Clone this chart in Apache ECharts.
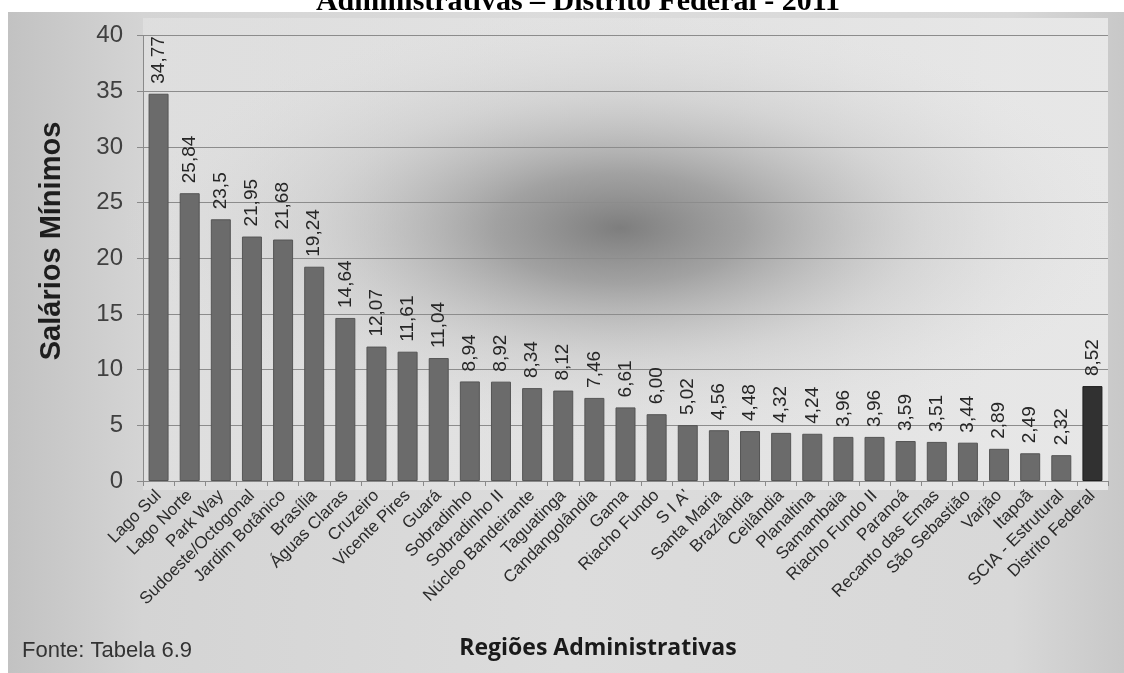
<!DOCTYPE html>
<html>
<head>
<meta charset="utf-8">
<script src="https://cdn.jsdelivr.net/npm/echarts@6/dist/echarts.min.js"></script>
<style>html,body{margin:0;padding:0;background:#fff;}#c{width:1124px;height:673px;}</style>
</head>
<body>
<div id="c"></div>
<script>
const categories = ["Lago Sul","Lago Norte","Park Way","Sudoeste/Octogonal","Jardim Botânico","Brasília","Águas Claras","Cruzeiro","Vicente Pires","Guará","Sobradinho","Sobradinho II","Núcleo Bandeirante","Taguatinga","Candangolândia","Gama","Riacho Fundo","S I A'","Santa Maria","Brazlândia","Ceilândia","Planaltina","Samambaia","Riacho Fundo II","Paranoá","Recanto das Emas","São Sebastião","Varjão","Itapoã","SCIA - Estrutural","Distrito Federal"];
const values = [34.77,25.84,23.5,21.95,21.68,19.24,14.64,12.07,11.61,11.04,8.94,8.92,8.34,8.12,7.46,6.61,6.00,5.02,4.56,4.48,4.32,4.24,3.96,3.96,3.59,3.51,3.44,2.89,2.49,2.32,8.52];
const valueLabels = ["34,77","25,84","23,5","21,95","21,68","19,24","14,64","12,07","11,61","11,04","8,94","8,92","8,34","8,12","7,46","6,61","6,00","5,02","4,56","4,48","4,32","4,24","3,96","3,96","3,59","3,51","3,44","2,89","2,49","2,32","8,52"];
const yTicks = [0,5,10,15,20,25,30,35,40];
const titleText = "Administrativas – Distrito Federal - 2011";
const yAxisTitle = "Salários Mínimos";
const xAxisTitle = "Regiões Administrativas";
const sourceText = "Fonte: Tabela 6.9";

const chart = echarts.init(document.getElementById('c'), null, {renderer:'canvas'});
const barData = values.map((v,i) => ({
  value: v,
  itemStyle: i === values.length-1 ? {color:'#313131', borderColor:'#1e1e1e'} : {}
}));
chart.setOption({
  animation:false,
  backgroundColor:'#ffffff',
  graphic:[
    {type:'text', z:-30, x:578, y:2,
     style:{text:titleText, font:'bold 30px "Liberation Serif"', fill:'#000', align:'center', verticalAlign:'middle'}},
    {type:'rect', z:-20, shape:{x:8,y:12,width:1116,height:661},
     style:{fill:{type:'linear',x:0,y:0,x2:1,y2:0,colorStops:[
       {offset:0,color:'#c2c2c2'},{offset:0.12,color:'#d4d4d4'},{offset:0.5,color:'#dcdcdc'},{offset:0.9,color:'#d8d8d8'},{offset:1,color:'#c8c8c8'}]}}},
    {type:'rect', z:-19, shape:{x:143,y:18,width:965,height:472},
     style:{fill:{type:'linear',x:0,y:0,x2:1,y2:0,colorStops:[
       {offset:0,color:'rgba(226,226,226,0.7)'},{offset:0.5,color:'rgba(230,230,230,0.6)'},{offset:1,color:'rgba(234,234,234,0.9)'}]}}},
    {type:'circle', z:-18, x:620, y:228, scaleY:0.44, shape:{cx:0,cy:0,r:500},
     style:{fill:{type:'radial',x:0.5,y:0.5,r:0.5,colorStops:[
       {offset:0,color:'rgba(120,120,120,0.95)'},{offset:0.25,color:'rgba(140,140,140,0.75)'},
       {offset:0.6,color:'rgba(185,185,185,0.35)'},{offset:1,color:'rgba(225,225,225,0)'}]}}},
    {type:'text', z:10, x:52, y:241, rotation:Math.PI/2,
     style:{text:yAxisTitle, font:'bold 29px "Liberation Sans"', fill:'#1e1e1e', align:'center', verticalAlign:'middle'}},
    {type:'text', z:10, x:598, y:648,
     style:{text:xAxisTitle, font:'bold 23px "Open Sans"', fill:'#1a1a1a', align:'center', verticalAlign:'middle'}},
    {type:'text', z:10, x:22, y:651,
     style:{text:sourceText, font:'22px "Liberation Sans"', fill:'#333', align:'left', verticalAlign:'middle'}}
  ],
  grid:{left:143, right:16, top:35.5, bottom:192, containLabel:false},
  xAxis:{
    type:'category', data:categories,
    axisLine:{lineStyle:{color:'#8a8a8a', width:1}},
    axisTick:{show:true, length:5, lineStyle:{color:'#8a8a8a'}},
    axisLabel:{rotate:45, interval:0, margin:12, fontSize:17, fontFamily:'Liberation Sans', color:'#2b2b2b'}
  },
  yAxis:{
    type:'value', min:0, max:40, interval:5,
    axisLine:{show:true, lineStyle:{color:'#8a8a8a'}},
    axisTick:{show:true, length:6, lineStyle:{color:'#8a8a8a'}},
    axisLabel:{margin:20, fontSize:24, fontFamily:'Liberation Sans', color:'#404040',
      formatter:(v)=> yTicks.includes(v) ? String(v) : ''},
    splitLine:{show:true, lineStyle:{color:'#8c8c8c', width:1.2}}
  },
  series:[{
    type:'bar', data:barData, barWidth:20,
    itemStyle:{color:'#6b6b6b', borderColor:'#555', borderWidth:1},
    label:{show:true, position:'top', rotate:90, distance:10, align:'left', verticalAlign:'middle',
      fontSize:19, fontFamily:'Liberation Sans', color:'#262626',
      formatter:(p)=> valueLabels[p.dataIndex]}
  }]
});
</script>
</body>
</html>
